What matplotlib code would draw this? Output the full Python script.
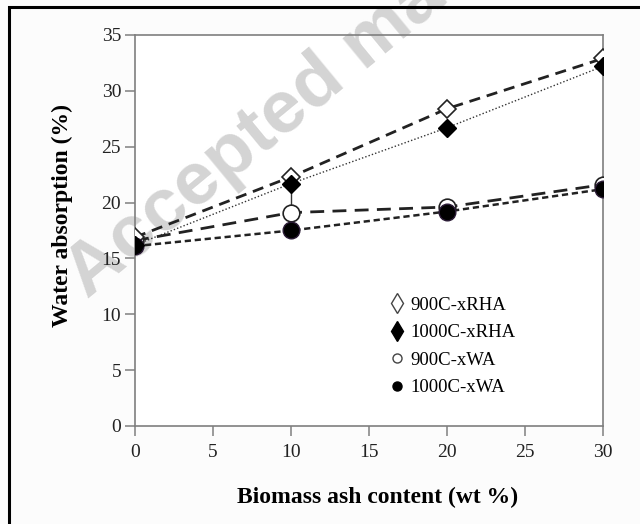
import matplotlib
matplotlib.use('Agg')
import matplotlib.pyplot as plt
from matplotlib.lines import Line2D
from matplotlib.patches import Rectangle
import numpy as np

# data
ash = [0, 10, 20, 30]
rha_900 = [16.9, 22.3, 28.4, 32.9]
rha_1000 = [16.2, 21.7, 26.7, 32.2]
wa_900 = [16.6, 19.1, 19.6, 21.6]
wa_1000 = [16.1, 17.5, 19.2, 21.2]
wa_900_err = [0.3, 2.3, 0.3, 0.3]
labels = ['900C-xRHA', '1000C-xRHA', '900C-xWA', '1000C-xWA']

plt.rcParams['font.family'] = ['Liberation Serif', 'DejaVu Serif']

W, H = 640, 524
fig = plt.figure(figsize=(6.4, 5.24), dpi=100)
fig.patch.set_facecolor('#fcfcfc')
ax = fig.add_axes([135 / W, 1 - 426 / H, 468 / W, 391 / H])
ax.set_facecolor('white')

# watermark (above axes background, below the data)
ax.text(87 / W, 1 - 299 / H, 'Accepted manuscript', fontsize=54,
        fontweight='bold', family='Liberation Sans', color='#d4d4d4',
        rotation=39.5, rotation_mode='anchor', ha='left', va='baseline',
        transform=fig.transFigure, clip_on=False, zorder=1.5)

ax.errorbar(ash, wa_900, yerr=wa_900_err, color='#333333', lw=1.0,
            ls='none', capsize=0, zorder=2)
ax.plot(ash, rha_900, ls=(0, (4, 2.5)), color='#222222', lw=2.0,
        marker='D', ms=9, mfc='white', mec='#222222', mew=1.2, zorder=4)
ax.plot(ash, rha_1000, ls=(0, (1, 1.5)), color='#333333', lw=1.0,
        marker='D', ms=9, mfc='black', mec='black', zorder=5)
ax.plot(ash, wa_900, ls=(0, (5, 3)), color='#222222', lw=2.0,
        marker='o', ms=12, mfc='white', mec='#222222', mew=1.2, zorder=3)
ax.plot(ash, wa_1000, ls=(0, (2.5, 1.5)), color='#222222', lw=1.8,
        marker='o', ms=12, mfc='black', mec='#2a1a35', zorder=4)

ax.set_xlim(0, 30)
ax.set_ylim(0, 35)
ax.set_xticks(np.arange(0, 31, 5))
ax.set_yticks(np.arange(0, 36, 5))
for s in ax.spines.values():
    s.set_color('#7f7f7f')
    s.set_linewidth(1.2)
    s.set_zorder(2.5)
ax.tick_params(direction='out', length=7, width=1.1, color='#7f7f7f',
               labelsize=14, labelcolor='#222222')
ax.tick_params(axis='x', pad=6)
ax.tick_params(axis='y', pad=3)

ax.set_xlabel('Biomass ash content (wt %)', fontsize=17, fontweight='bold')
ax.set_ylabel('Water absorption (%)', fontsize=17, fontweight='bold')
ax.xaxis.set_label_coords((378 - 135) / 468, -(497 - 426) / 391)
ax.yaxis.set_label_coords(-(135 - 62) / 468, (426 - 216) / 391)
ax.xaxis.label.set_va('center')
ax.yaxis.label.set_va('center')

handles = [
    Line2D([], [], ls='none', marker='d', ms=10, mfc='white', mec='#444444'),
    Line2D([], [], ls='none', marker='d', ms=10, mfc='black', mec='black'),
    Line2D([], [], ls='none', marker='o', ms=6.5, mfc='white', mec='#444444'),
    Line2D([], [], ls='none', marker='o', ms=6.5, mfc='black', mec='black'),
]
ax.legend(handles, labels, loc='upper left', bbox_to_anchor=(0.532, 0.35),
          frameon=False, fontsize=13.5, handlelength=0.6, handletextpad=0.4,
          labelspacing=0.55, borderaxespad=0)

# page frame
fig.patches.append(Rectangle((9 / W, -0.1), 1.2, 1.1 - 7 / H,
                             transform=fig.transFigure, fill=False,
                             edgecolor='black', lw=2.2, zorder=10))

plt.savefig('out.png', dpi=100)
